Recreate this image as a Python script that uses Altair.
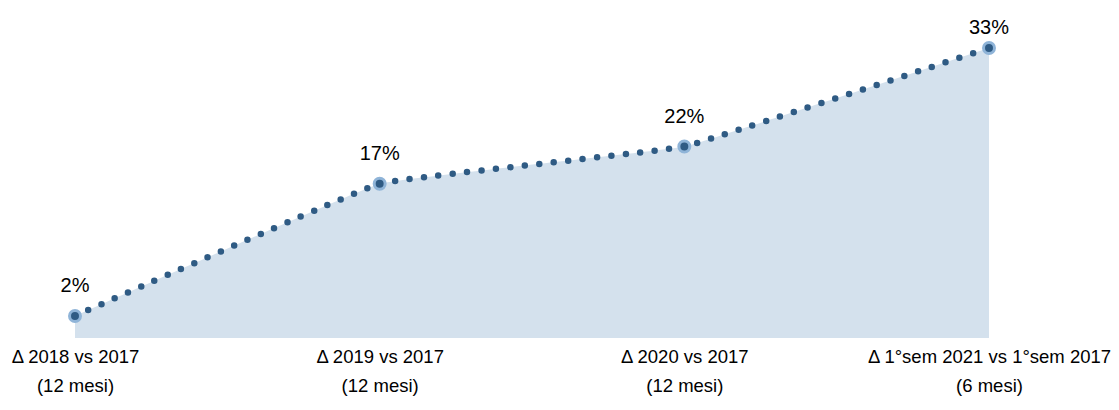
import altair as alt
import pandas as pd

# ---- data ----
periods = ["Δ 2018 vs 2017", "Δ 2019 vs 2017", "Δ 2020 vs 2017", "Δ 1°sem  2021 vs 1°sem 2017"]
durations = ["(12 mesi)", "(12 mesi)", "(12 mesi)", "(6 mesi)"]
growth = [2.0, 17.3, 21.6, 33.0]

FONT = "Liberation Sans Narrow, Arial Narrow, Liberation Sans, Arial, sans-serif"
DARK = "#2f5b84"
LIGHT = "#8fb4d8"
AREA = "#d4e1ed"
BASE = -0.55

df = pd.DataFrame({
    "cat": [p + "|" + d for p, d in zip(periods, durations)],
    "value": growth,
})
df["pct"] = [f"{round(v)}%" for v in growth]
df["last"] = [i == len(growth) - 1 for i in range(len(growth))]
order = list(df["cat"])

x = alt.X(
    "cat:N",
    sort=order,
    scale=alt.Scale(type="point", padding=0),
    axis=alt.Axis(
        title=None, domain=False, ticks=False, grid=False, labelAngle=0,
        labelExpr="split(datum.label, '|')",
        labelFont=FONT, labelFontSize=18.5, labelColor="#000000",
        labelLineHeight=29, labelPadding=9, labelBaseline="top",
        labelOverlap=False, labelLimit=0, labelBound=False,
    ),
)
y = alt.Y("value:Q", scale=alt.Scale(domain=[BASE, 36.24], nice=False, zero=False), axis=None)

base = alt.Chart(df)

area = base.mark_area(color=AREA, interpolate="cardinal", tension=0.8).encode(x=x, y=y, y2=alt.datum(BASE))
line = base.mark_line(
    interpolate="cardinal", tension=0.8, color=DARK, strokeWidth=6.5,
    strokeDash=[0, 14.5], strokeCap="round",
).encode(x=x, y=y)
pts = base.mark_circle(size=120, color=DARK, opacity=1, stroke=LIGHT, strokeWidth=3).encode(x=x, y=y)
labels = base.transform_filter("!datum.last").mark_text(
    dy=-24, font=FONT, fontSize=20, color="#000000", baseline="alphabetic"
).encode(x=x, y=y, text="pct:N")
labels_last = base.transform_filter("datum.last").mark_text(
    dy=-14, font=FONT, fontSize=20, color="#000000", baseline="alphabetic"
).encode(x=x, y=y, text="pct:N")

chart = alt.layer(area, line, pts, labels, labels_last).properties(
    width=914, height=318,
    autosize=alt.AutoSizeParams(type="none"),
    padding={"left": 67, "top": 12, "right": 122, "bottom": 60},
).configure_view(stroke=None)

chart.save("out.html", embed_options={"renderer": "svg", "actions": False})
